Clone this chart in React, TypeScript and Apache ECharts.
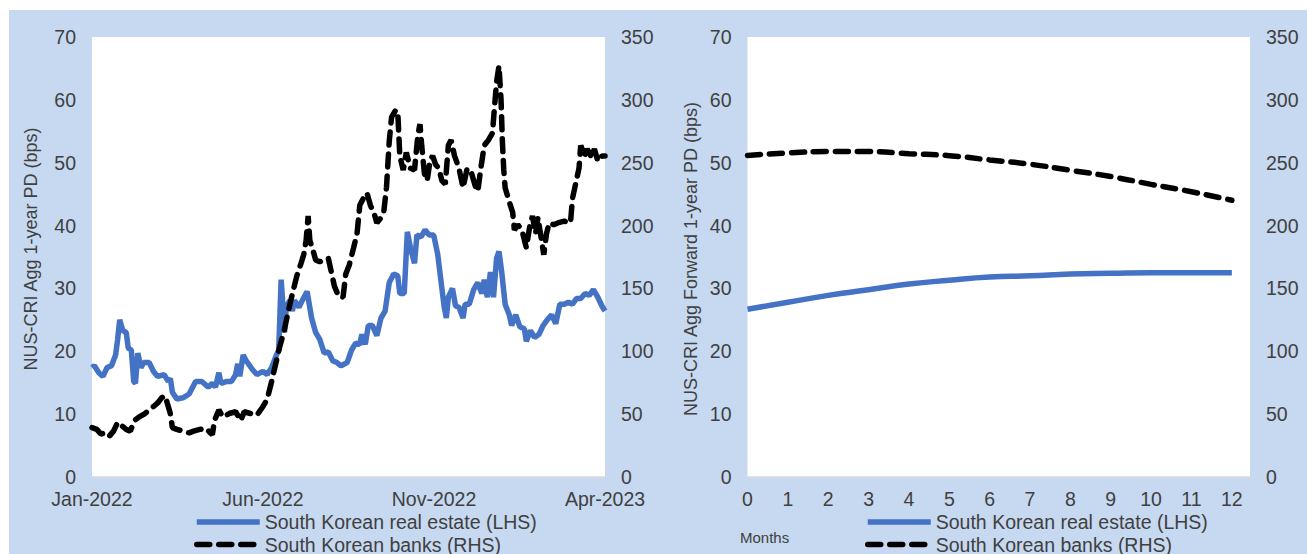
import React, { useEffect, useRef } from "react";
import * as echarts from "echarts";

// ---- Left panel: daily history, x in months since Jan-2022 ----
const xTickLabels = ["Jan-2022", "Jun-2022", "Nov-2022", "Apr-2023"];

const reMonths = [
  0.0, 0.07, 0.2, 0.32, 0.44, 0.57, 0.69, 0.75, 0.81, 0.9, 1.0, 1.06, 1.15, 1.22, 1.27, 1.34, 1.43, 1.51, 1.67, 1.8,
  1.92, 2.11, 2.23, 2.29, 2.35, 2.48, 2.66, 2.84, 3.03, 3.21, 3.4, 3.52, 3.61, 3.71, 3.77, 3.95, 4.08, 4.2, 4.26, 4.32,
  4.42, 4.51, 4.69, 4.82, 5.0, 5.12, 5.25, 5.37, 5.46, 5.53, 5.58, 5.63, 5.68, 5.78, 5.86, 5.92, 6.05, 6.15, 6.29, 6.42,
  6.54, 6.66, 6.79, 6.91, 7.04, 7.16, 7.28, 7.46, 7.59, 7.71, 7.83, 7.89, 7.99, 8.08, 8.2, 8.33, 8.45, 8.57, 8.69, 8.82,
  8.94, 9.0, 9.13, 9.22, 9.31, 9.43, 9.5, 9.62, 9.74, 9.86, 9.99, 10.11, 10.21, 10.3, 10.36, 10.42, 10.54, 10.63, 10.73,
  10.85, 10.91, 11.03, 11.16, 11.28, 11.4, 11.47, 11.56, 11.65, 11.74, 11.83, 11.9, 11.98, 12.08, 12.2, 12.27, 12.39,
  12.51, 12.64, 12.7, 12.82, 12.94, 13.07, 13.19, 13.31, 13.44, 13.56, 13.68, 13.81, 13.93, 14.05, 14.17, 14.29, 14.42,
  14.54, 14.66, 14.79, 14.91, 15.0,
];
const reValues = [
  17.4, 17.7, 16.6, 16.0, 17.4, 17.7, 19.4, 21.9, 25.0, 23.3, 23.0, 20.5, 20.2, 15.2, 14.9, 19.7, 17.4, 18.2, 18.2, 16.8,
  16.0, 16.3, 15.2, 15.7, 13.5, 12.4, 12.6, 13.2, 15.2, 15.2, 14.3, 14.9, 14.3, 16.6, 14.9, 15.2, 15.2, 16.3, 18.0, 16.0,
  19.4, 18.5, 17.1, 16.3, 16.8, 16.3, 17.4, 19.1, 20.2, 31.4, 27.5, 23.0, 27.0, 28.1, 26.4, 28.1, 27.0, 28.1, 29.5, 25.3,
  23.0, 21.9, 19.7, 19.9, 18.5, 18.2, 17.7, 18.2, 20.2, 21.3, 21.1, 22.7, 21.1, 24.1, 24.1, 22.5, 25.3, 26.4, 30.9, 32.3,
  32.0, 29.2, 29.2, 39.0, 36.5, 34.0, 38.5, 38.2, 39.3, 38.5, 38.5, 35.4, 30.9, 27.0, 25.3, 28.6, 30.0, 27.2, 27.0,
  25.3, 27.5, 27.5, 29.8, 30.9, 29.2, 31.4, 28.6, 32.6, 28.6, 34.8, 35.9, 32.6, 27.5, 25.8, 24.1, 25.8,
  23.9, 23.6, 21.6, 23.3, 22.2, 22.7, 24.1, 25.0, 25.8, 24.4, 27.5, 27.5, 27.8, 27.5, 28.4, 28.4, 29.2,
  28.9, 29.8, 28.6, 27.2, 26.4,
];

const bankMonths = [
  0.0, 0.14, 0.26, 0.38, 0.5, 0.63, 0.75, 0.87, 1.0, 1.12, 1.24, 1.37, 1.55, 1.67, 1.8, 1.92, 2.04, 2.14, 2.2, 2.29, 2.35,
  2.48, 2.66, 2.84, 2.97, 3.15, 3.34, 3.46, 3.52, 3.58, 3.71, 3.83, 4.01, 4.2, 4.35, 4.45, 4.63, 4.82, 5.0, 5.12, 5.25,
  5.37, 5.49, 5.62, 5.74, 5.86, 5.99, 6.11, 6.19, 6.26, 6.32, 6.37, 6.44, 6.54, 6.66, 6.79, 6.91, 7.0, 7.09, 7.22, 7.34,
  7.42, 7.52, 7.65, 7.75, 7.83, 7.96, 8.04, 8.14, 8.24, 8.33, 8.45, 8.53, 8.61, 8.69, 8.76, 8.88, 8.94, 9.0, 9.1, 9.19,
  9.31, 9.43, 9.53, 9.59, 9.64, 9.72, 9.8, 9.89, 9.96, 10.05, 10.14, 10.23, 10.33, 10.42, 10.5, 10.6, 10.73, 10.85,
  10.97, 11.1, 11.22, 11.28, 11.37, 11.47, 11.59, 11.71, 11.77, 11.83, 11.9, 11.96, 12.0, 12.04, 12.08, 12.2, 12.3,
  12.35, 12.45, 12.57, 12.7, 12.8, 12.88, 12.97, 13.04, 13.13, 13.21, 13.29, 13.37, 13.5, 13.62, 13.81, 13.99, 14.05,
  14.14, 14.24, 14.29, 14.4, 14.48, 14.61, 14.69, 14.79, 14.91, 15.0,
];
const bankValues = [
  39.3, 37.9, 34.2, 35.1, 32.3, 36.5, 43.5, 40.7, 37.9, 36.5, 44.9, 47.7, 50.5, 53.3, 56.1, 58.9, 63.1, 64.6, 58.9, 50.5,
  39.3, 37.9, 36.5, 35.1, 36.5, 37.9, 38.7, 35.1, 33.7, 44.9, 53.3, 47.7, 50.5, 51.9, 44.9, 51.9, 50.5, 49.1, 56.1, 61.7,
  75.8, 89.8, 103.8, 116.5, 131.9, 145.9, 160.0, 169.8, 176.8, 188.0, 207.7, 188.0, 182.4, 172.6, 171.2, 172.6, 174.0,
  162.8, 151.6, 143.1, 143.1, 161.4, 168.4, 182.4, 193.7, 216.1, 223.1, 225.9, 216.1, 210.5, 202.1, 206.3, 210.5, 230.1,
  266.6, 286.3, 291.9, 290.5, 255.4, 244.2, 258.2, 245.6, 244.2, 272.2, 280.7, 263.8, 241.4, 235.8, 252.6, 255.4, 248.4,
  245.6, 235.8, 233.0, 263.8, 268.0, 255.4, 245.6, 230.1, 245.6, 241.4, 230.1, 227.3, 245.6, 263.8, 268.0, 273.6, 294.7,
  314.3, 327.0, 300.3, 266.6, 244.2, 230.1, 218.9, 210.5, 196.5, 200.7, 196.5, 182.4, 199.3, 207.7, 193.7, 206.3, 190.8,
  176.8, 193.7, 202.1, 200.7, 202.1, 203.5, 202.1, 221.7, 233.0, 245.6, 263.8, 255.4, 261.0, 254.0, 261.0, 251.2, 255.4,
  255.4,
];

// ---- Right panel: forward curve, months ahead ----
const fwdMonths = [0, 1, 2, 3, 4, 5, 6, 7, 8, 9, 10, 11, 12];
const fwdRealEstate = [26.7, 27.8, 28.9, 29.8, 30.7, 31.3, 31.8, 32.0, 32.3, 32.4, 32.5, 32.5, 32.5];
const fwdBanks = [255.8, 257.8, 258.9, 258.9, 257.2, 255.6, 252.2, 248.8, 244.0, 239.0, 232.8, 226.9, 220.1];

const seriesNames = ["South Korean real estate (LHS)", "South Korean banks (RHS)"];
const leftTitle = "NUS-CRI Agg 1-year PD (bps)";
const rightTitle = "NUS-CRI Agg Forward 1-year PD (bps)";
const monthsLabel = "Months";

const FONT = "'Liberation Sans', Arial, sans-serif";
const TXT = "#404040";
const BLUE = "#4472C4";

const zip = (xs: number[], ys: number[]) => xs.map((x, i) => [x, ys[i]]);

export default function App() {
  const ref = useRef<HTMLDivElement>(null);
  useEffect(() => {
    if (!ref.current) return;
    const chart = echarts.init(ref.current, undefined, { renderer: "svg" });
    const labelStyle = { fontSize: 19.5, color: TXT, fontFamily: FONT };
    const yCommon = (gridIndex: number, position: string, max: number, interval: number) => ({
      type: "value",
      gridIndex,
      position,
      min: 0,
      max,
      interval,
      axisLine: { show: false },
      axisTick: { show: false },
      splitLine: { show: false },
      axisLabel: { ...labelStyle, margin: 16 },
    });
    const blueLine = { color: BLUE, width: 5.5 };
    const blackLine = { color: "#000", width: 5.5, type: [13, 9], cap: "round" };
    const legendCommon = {
      orient: "vertical",
      itemWidth: 63,
      itemHeight: 14,
      itemGap: 2.5,
      padding: 0,
      top: 512,
      height: 80,
      textStyle: { ...labelStyle },
      itemStyle: { opacity: 0, color: "rgba(0,0,0,0)", borderWidth: 0 },
      lineStyle: { width: 5.5 },
      data: seriesNames,
      selectedMode: false,
    };
    chart.setOption({
      animation: false,
      grid: [
        { left: 92, top: 37, width: 513, height: 440, show: true, backgroundColor: "#fff", borderWidth: 0 },
        { left: 747.5, top: 37, width: 502.5, height: 440, show: true, backgroundColor: "#fff", borderWidth: 0 },
      ],
      xAxis: [
        {
          type: "value",
          gridIndex: 0,
          min: 0,
          max: 15,
          interval: 5,
          axisLine: { show: true, lineStyle: { color: "#d9d9d9", width: 1.5 } },
          axisTick: { show: false },
          splitLine: { show: false },
          axisLabel: {
            ...labelStyle,
            margin: 12,
            formatter: (v: number) => (Math.abs(v % 5) < 1e-6 ? xTickLabels[Math.round(v / 5)] ?? "" : ""),
          },
        },
        {
          type: "value",
          gridIndex: 1,
          min: 0,
          max: 12.45,
          interval: 1,
          axisLine: { show: true, lineStyle: { color: "#d9d9d9", width: 1.5 } },
          axisTick: { show: false },
          splitLine: { show: false },
          axisLabel: {
            ...labelStyle,
            margin: 12,
            showMaxLabel: false,
            formatter: (v: number) => (Math.abs(v - Math.round(v)) < 1e-6 ? String(Math.round(v)) : ""),
          },
        },
      ],
      yAxis: [
        yCommon(0, "left", 70, 10),
        yCommon(0, "right", 350, 50),
        yCommon(1, "left", 70, 10),
        yCommon(1, "right", 350, 50),
      ],
      legend: [
        { ...legendCommon, left: 194 },
        { ...legendCommon, left: 865 },
      ],
      series: [
        {
          name: seriesNames[0],
          type: "line",
          xAxisIndex: 0,
          yAxisIndex: 0,
          data: zip(reMonths, reValues),
          symbol: "none",
          lineStyle: blueLine,
          itemStyle: { color: BLUE },
        },
        {
          name: seriesNames[1],
          type: "line",
          xAxisIndex: 0,
          yAxisIndex: 1,
          data: zip(bankMonths, bankValues),
          symbol: "none",
          lineStyle: blackLine,
          itemStyle: { color: "#000" },
        },
        {
          name: seriesNames[0],
          type: "line",
          xAxisIndex: 1,
          yAxisIndex: 2,
          data: zip(fwdMonths, fwdRealEstate),
          smooth: true,
          symbol: "none",
          lineStyle: blueLine,
          itemStyle: { color: BLUE },
        },
        {
          name: seriesNames[1],
          type: "line",
          xAxisIndex: 1,
          yAxisIndex: 3,
          data: zip(fwdMonths, fwdBanks),
          smooth: true,
          symbol: "none",
          lineStyle: blackLine,
          itemStyle: { color: "#000" },
        },
      ],
      graphic: [
        {
          type: "text",
          x: 31,
          y: 249,
          rotation: Math.PI / 2,
          style: { text: leftTitle, fontSize: 18, fill: TXT, fontFamily: FONT, align: "center", verticalAlign: "middle" },
        },
        {
          type: "text",
          x: 691,
          y: 259,
          rotation: Math.PI / 2,
          style: { text: rightTitle, fontSize: 18, fill: TXT, fontFamily: FONT, align: "center", verticalAlign: "middle" },
        },
        {
          type: "text",
          x: 740,
          y: 537,
          style: { text: monthsLabel, fontSize: 15, fill: TXT, fontFamily: FONT, align: "left", verticalAlign: "middle" },
        },
      ],
    });
    return () => chart.dispose();
  }, []);
  return (
    <div style={{ position: "absolute", left: 0, top: 0, width: 1307, height: 554, background: "#fff" }}>
      <div style={{ position: "absolute", left: 9, top: 10, right: 0, bottom: 0, background: "#C6D9F0" }} />
      <div ref={ref} style={{ position: "absolute", left: 0, top: 0, width: 1307, height: 554 }} />
    </div>
  );
}
